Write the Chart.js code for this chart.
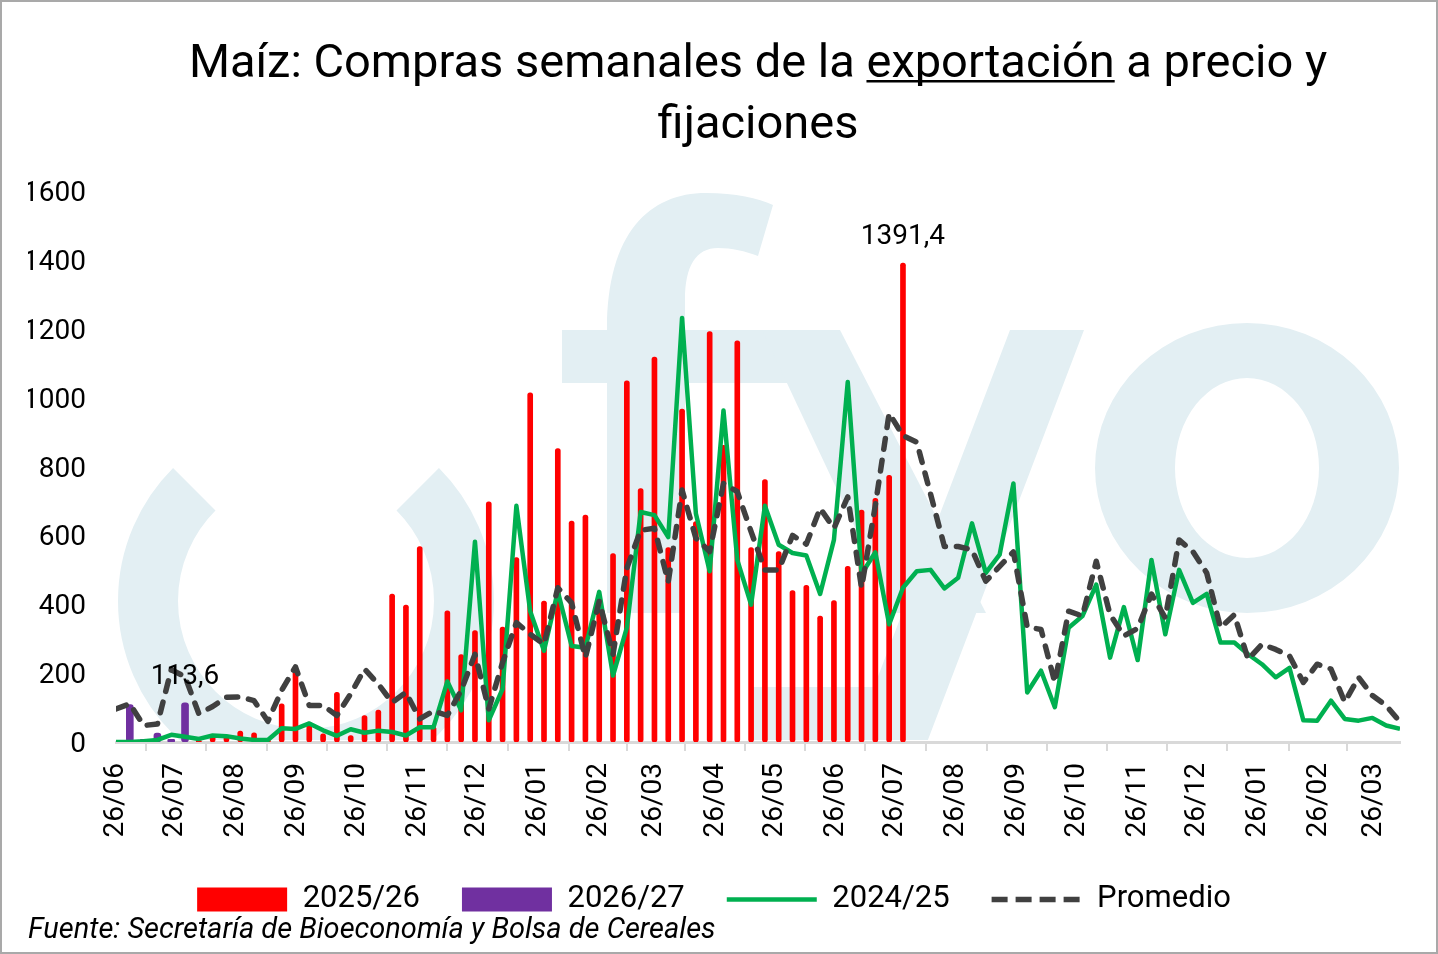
<!DOCTYPE html>
<html>
<head>
<meta charset="utf-8">
<script src="https://cdn.jsdelivr.net/npm/chart.js@4.4.1/dist/chart.umd.min.js"></script>
<style>
  html, body { margin: 0; padding: 0; background: #ffffff; }
  #wrap { position: relative; width: 1438px; height: 954px; }
</style>
</head>
<body>
<div id="wrap"><canvas id="chart"></canvas></div>
<script>
// ---------------- DATA ----------------
// Weekly series, week 0 = 26/06/2025, one value per week
const startDate = '2025-06-26';
const tickLabels = ['26/06','26/07','26/08','26/09','26/10','26/11','26/12','26/01','26/02','26/03','26/04',
                    '26/05','26/06','26/07','26/08','26/09','26/10','26/11','26/12','26/01','26/02','26/03'];
const seriesNames = ['2025/26', '2026/27', '2024/25', 'Promedio'];

const serie2025_26 = [4, null, null, null, null, null, 4, 19, 19, 32, 27, 5, 111, 205, 58, 24, 144, 19, 77, 93,
  430, 398, 568, 44, 381, 254, 324, 698, 334, 536, 1014, 409, 852, 642, 659, 380, 547, 1049, 736, 1118,
  565, 967, 640, 1192, 862, 1165, 565, 762, 553, 440, 455, 366, 411, 510, 674, 708, 775, 1391.4];

const serie2026_27 = [null, 109, 8, 26, 8, 113.6];

const serie2024_25 = [0, 0, 2, 6, 21, 15, 9, 19, 17, 10,
  6, 6, 40, 38, 54, 34, 18, 37, 27, 33,
  29, 19, 43, 43, 176, 92, 582, 63, 154, 686,
  380, 265, 438, 279, 274, 436, 193, 332, 668, 659,
  595, 1232, 664, 496, 963, 529, 399, 686, 573, 549,
  542, 430, 587, 1046, 488, 551, 342, 448, 496, 500,
  446, 477, 635, 491, 544, 751, 144, 207, 101, 332,
  366, 457, 245, 392, 238, 529, 313, 500, 404, 430,
  289, 289, 255, 226, 188, 215, 63, 62, 120, 67,
  62, 70, 48, 38];

const promedio = [96, 111, 48, 52, 210, 190, 82, 103, 130, 131,
  120, 60, 150, 218, 106, 106, 77, 140, 212, 168,
  115, 144, 67, 90, 77, 150, 255, 96, 231, 347,
  313, 284, 448, 404, 245, 409, 255, 505, 615, 621,
  465, 732, 592, 553, 751, 727, 611, 500, 500, 600,
  575, 679, 621, 712, 448, 688, 955, 890, 871, 720,
  568, 568, 558, 467, 510, 552, 334, 327, 173, 380,
  366, 525, 370, 308, 330, 430, 361, 587, 553, 491,
  332, 370, 240, 284, 269, 250, 173, 226, 212, 116,
  188, 135, 106, 58];

// ---------------- HELPERS ----------------
const DAY = 86400000;
const t0 = Date.parse(startDate + 'T00:00:00Z');
const toPoints = arr => arr.map((v, i) => ({ x: i * 7, y: v })).filter(p => p.y !== null && p.y !== undefined);

let yr = new Date(t0).getUTCFullYear(), prevM = 0;
const tickDays = tickLabels.map(lbl => {
  const [d, m] = lbl.split('/').map(Number);
  if (m < prevM) yr++;
  prevM = m;
  return Math.round((Date.UTC(yr, m - 1, d) - t0) / DAY);
});

const FONT = 'Roboto';
const WM = '#e3eff3';

// ---------------- PLUGINS ----------------
const backgroundPlugin = {
  id: 'bgWatermark',
  beforeDraw(chart) {
    const { ctx, chartArea: a, width, height } = chart;
    ctx.save();
    ctx.fillStyle = '#ffffff';
    ctx.fillRect(0, 0, width, height);
    ctx.beginPath();
    ctx.rect(a.left, a.top, a.right - a.left, a.bottom - a.top - 2);
    ctx.clip();
    ctx.fillStyle = WM;
    ctx.strokeStyle = WM;
    // left open ring
    ctx.beginPath();
    ctx.lineWidth = 60;
    ctx.arc(306, 601, 158, -Math.PI / 4, 5 * Math.PI / 4);
    ctx.stroke();
    // f
    ctx.beginPath();
    ctx.moveTo(607, 613); ctx.lineTo(607, 330);
    ctx.bezierCurveTo(607, 232, 650, 193, 706, 193);
    ctx.bezierCurveTo(736, 193, 758, 198, 773, 205);
    ctx.lineTo(758, 256);
    ctx.bezierCurveTo(745, 251, 732, 248, 718, 248);
    ctx.bezierCurveTo(696, 248, 685, 266, 685, 300);
    ctx.lineTo(685, 613); ctx.closePath(); ctx.fill();
    ctx.fillRect(562, 330, 228, 53);
    // y
    ctx.beginPath();
    ctx.moveTo(762, 330); ctx.lineTo(840, 330); ctx.lineTo(986, 613); ctx.lineTo(895, 613); ctx.closePath(); ctx.fill();
    ctx.beginPath();
    ctx.moveTo(1010, 330); ctx.lineTo(1084, 330); ctx.lineTo(926, 745); ctx.lineTo(750, 745);
    ctx.lineTo(750, 687); ctx.lineTo(874, 687); ctx.closePath(); ctx.fill();
    // o
    ctx.beginPath();
    ctx.ellipse(1247, 468, 152, 145, 0, 0, 2 * Math.PI);
    ctx.moveTo(1247 + 72, 468);
    ctx.ellipse(1247, 468, 72, 90, 0, 0, 2 * Math.PI);
    ctx.fill('evenodd');
    ctx.restore();
  },
  afterDraw(chart) {
    const { ctx, width, height } = chart;
    // title underline under "exportación"
    const tb = chart.titleBlock;
    if (tb) {
      const o = tb.options;
      const size = o.font.size, lh = size * o.font.lineHeight;
      ctx.save();
      ctx.font = `${o.font.weight} ${size}px ${FONT}`;
      ctx.textBaseline = 'middle';
      const line1 = o.text[0];
      const cx = (tb.left + tb.right) / 2;
      const w = ctx.measureText(line1).width;
      const word = 'exportación';
      const idx = line1.indexOf(word);
      const x0 = cx - w / 2 + ctx.measureText(line1.slice(0, idx)).width;
      const ww = ctx.measureText(word).width;
      const cy = tb.top + o.padding.top + lh / 2;
      const desc = ctx.measureText('M').actualBoundingBoxDescent;
      ctx.strokeStyle = '#000';
      ctx.lineWidth = 2.5;
      ctx.beginPath();
      ctx.moveTo(x0, cy + desc + 4);
      ctx.lineTo(x0 + ww, cy + desc + 4);
      ctx.stroke();
      ctx.restore();
    }
    // frame
    ctx.save();
    ctx.strokeStyle = '#a9a9a9';
    ctx.lineWidth = 2;
    ctx.strokeRect(1, 1, width - 2, height - 2);
    ctx.restore();
  }
};

const lastValueLabels = {
  id: 'lastValueLabels',
  afterDatasetsDraw(chart) {
    const ctx = chart.ctx;
    chart.data.datasets.forEach((ds, i) => {
      if (ds.type !== 'bar') return;
      const meta = chart.getDatasetMeta(i);
      const n = meta.data.length - 1;
      if (n < 0) return;
      const el = meta.data[n];
      const v = ds.data[n].y;
      ctx.save();
      ctx.font = `28px ${FONT}`;
      ctx.fillStyle = '#000';
      ctx.textAlign = 'center';
      ctx.textBaseline = 'alphabetic';
      ctx.fillText(String(v).replace('.', ','), el.x, el.y - 19);
      ctx.restore();
    });
  }
};

// ---------------- CHART ----------------
new Chart(document.getElementById('chart'), {
  type: 'bar',
  data: {
    datasets: [
      { type: 'bar', label: seriesNames[0], data: toPoints(serie2025_26), backgroundColor: '#ff0000',
        barThickness: 5, borderRadius: 2.5, borderSkipped: false, grouped: false, order: 4 },
      { type: 'bar', label: seriesNames[1], data: toPoints(serie2026_27), backgroundColor: '#7030a0',
        barThickness: 7, borderRadius: 3, borderSkipped: false, grouped: false, order: 3 },
      { type: 'line', label: seriesNames[2], data: toPoints(serie2024_25), borderColor: '#00b050',
        backgroundColor: '#00b050', borderWidth: 4.5, pointRadius: 0, tension: 0, borderJoinStyle: 'round', order: 2 },
      { type: 'line', label: seriesNames[3], data: toPoints(promedio), borderColor: '#404040',
        backgroundColor: '#404040', borderWidth: 5.5, borderDash: [11, 11], borderCapStyle: 'round',
        pointRadius: 0, tension: 0, borderJoinStyle: 'round', order: 1 }
    ]
  },
  options: {
    responsive: true,
    maintainAspectRatio: false,
    animation: false,
    layout: { padding: { left: 28, right: 38, top: 0, bottom: 1 } },
    scales: {
      x: {
        type: 'linear',
        min: 0,
        max: 7 * (serie2024_25.length - 1),
        offset: false,
        afterBuildTicks: s => { s.ticks = tickDays.map(v => ({ value: v })); },
        afterFit: s => { s.height = 100; },
        ticks: {
          autoSkip: false, maxRotation: 90, minRotation: 90, padding: 12,
          font: { family: FONT, size: 28 }, color: '#000',
          callback: (v, i) => tickLabels[i]
        },
        grid: { drawOnChartArea: false, drawTicks: true, tickLength: 9, color: '#d9d9d9', lineWidth: 2 },
        border: { display: true, color: '#d9d9d9', width: 3 }
      },
      y: {
        min: 0, max: 1600,
        afterFit: s => { s.width = 88; },
        ticks: { stepSize: 200, padding: 30, labelOffset: 3, font: { family: FONT, size: 28 }, color: '#000',
                 callback: v => String(v) },
        grid: { display: false, drawTicks: false },
        border: { display: false }
      }
    },
    plugins: {
      title: {
        display: true, fullSize: false,
        text: ['Maíz: Compras semanales de la exportación a precio y', 'fijaciones'],
        font: { family: FONT, size: 47, weight: 'normal', lineHeight: 1.3 },
        color: '#000',
        padding: { top: 35, bottom: 34 }
      },
      subtitle: {
        display: true, position: 'bottom', align: 'start',
        text: 'Fuente: Secretaría de Bioeconomía y Bolsa de Cereales',
        font: { family: FONT, size: 29, style: 'italic', weight: 'normal', lineHeight: 1 },
        color: '#000',
        padding: { top: -9, bottom: 8 }
      },
      legend: {
        position: 'bottom', align: 'center',
        labels: {
          usePointStyle: true, pointStyleWidth: 90, boxHeight: 24, padding: 42,
          font: { family: FONT, size: 31 }, color: '#000',
          generateLabels: chart => chart.data.datasets.map((ds, i) => ({
            text: ds.label,
            datasetIndex: i,
            fillStyle: ds.type === 'line' ? 'rgba(0,0,0,0)' : ds.backgroundColor,
            strokeStyle: ds.type === 'line' ? ds.borderColor : ds.backgroundColor,
            lineWidth: ds.type === 'line' ? ds.borderWidth : 0,
            lineDash: ds.type === 'line' && ds.borderDash ? [16, 8] : [],
            pointStyle: ds.type === 'line' ? 'line' : 'rect',
            hidden: false,
            fontColor: '#000'
          }))
        }
      },
      tooltip: { enabled: false }
    }
  },
  plugins: [backgroundPlugin, lastValueLabels]
});
</script>
</body>
</html>
